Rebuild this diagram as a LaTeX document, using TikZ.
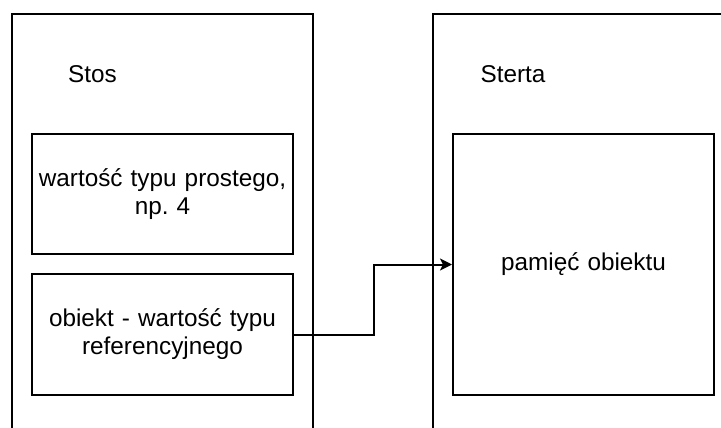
\documentclass[tikz,border=0pt]{standalone}
\usepackage{fontspec}
\setmainfont{Liberation Sans}
\usetikzlibrary{arrows.meta}
\frenchspacing
\begin{document}
\begin{tikzpicture}[x=1pt,y=-1pt,
  region/.style={draw, line width=2pt, anchor=north west, inner sep=0pt},
  cell/.style={draw, line width=2pt, anchor=north west, inner sep=0pt, align=center,
    font=\fontsize{24.3}{28}\selectfont},
  lbl/.style={font=\fontsize{24.3}{28}\selectfont, inner sep=0pt},
  link/.style={line width=2pt, -{Stealth[length=12pt,width=12pt,inset=3pt]}}]
\useasboundingbox (0,0) rectangle (721,428);
\clip (0,0) rectangle (721,428);
\node[region, minimum width=301pt, minimum height=440pt] (stos) at (11,13) {};
\node[region, minimum width=320pt, minimum height=440pt] (sterta) at (431.5,13) {};
\node[lbl] (stosl) at (92.5,74) {Stos};
\node[lbl] (stertal) at (513,74) {Sterta};
\node[cell, minimum width=261pt, minimum height=120pt, text width=255pt] (prosty) at (31,133) {wartość typu prostego,\\np. 4};
\node[cell, minimum width=261pt, minimum height=121pt, text width=255pt] (ref) at (31,273) {obiekt - wartość typu\\referencyjnego};
\node[cell, minimum width=261pt, minimum height=261pt, text width=255pt] (heap) at (452,133) {pamięć obiektu};
\draw[link] (ref.east) -- ++(80,0) |- (heap.west);
\end{tikzpicture}
\end{document}
